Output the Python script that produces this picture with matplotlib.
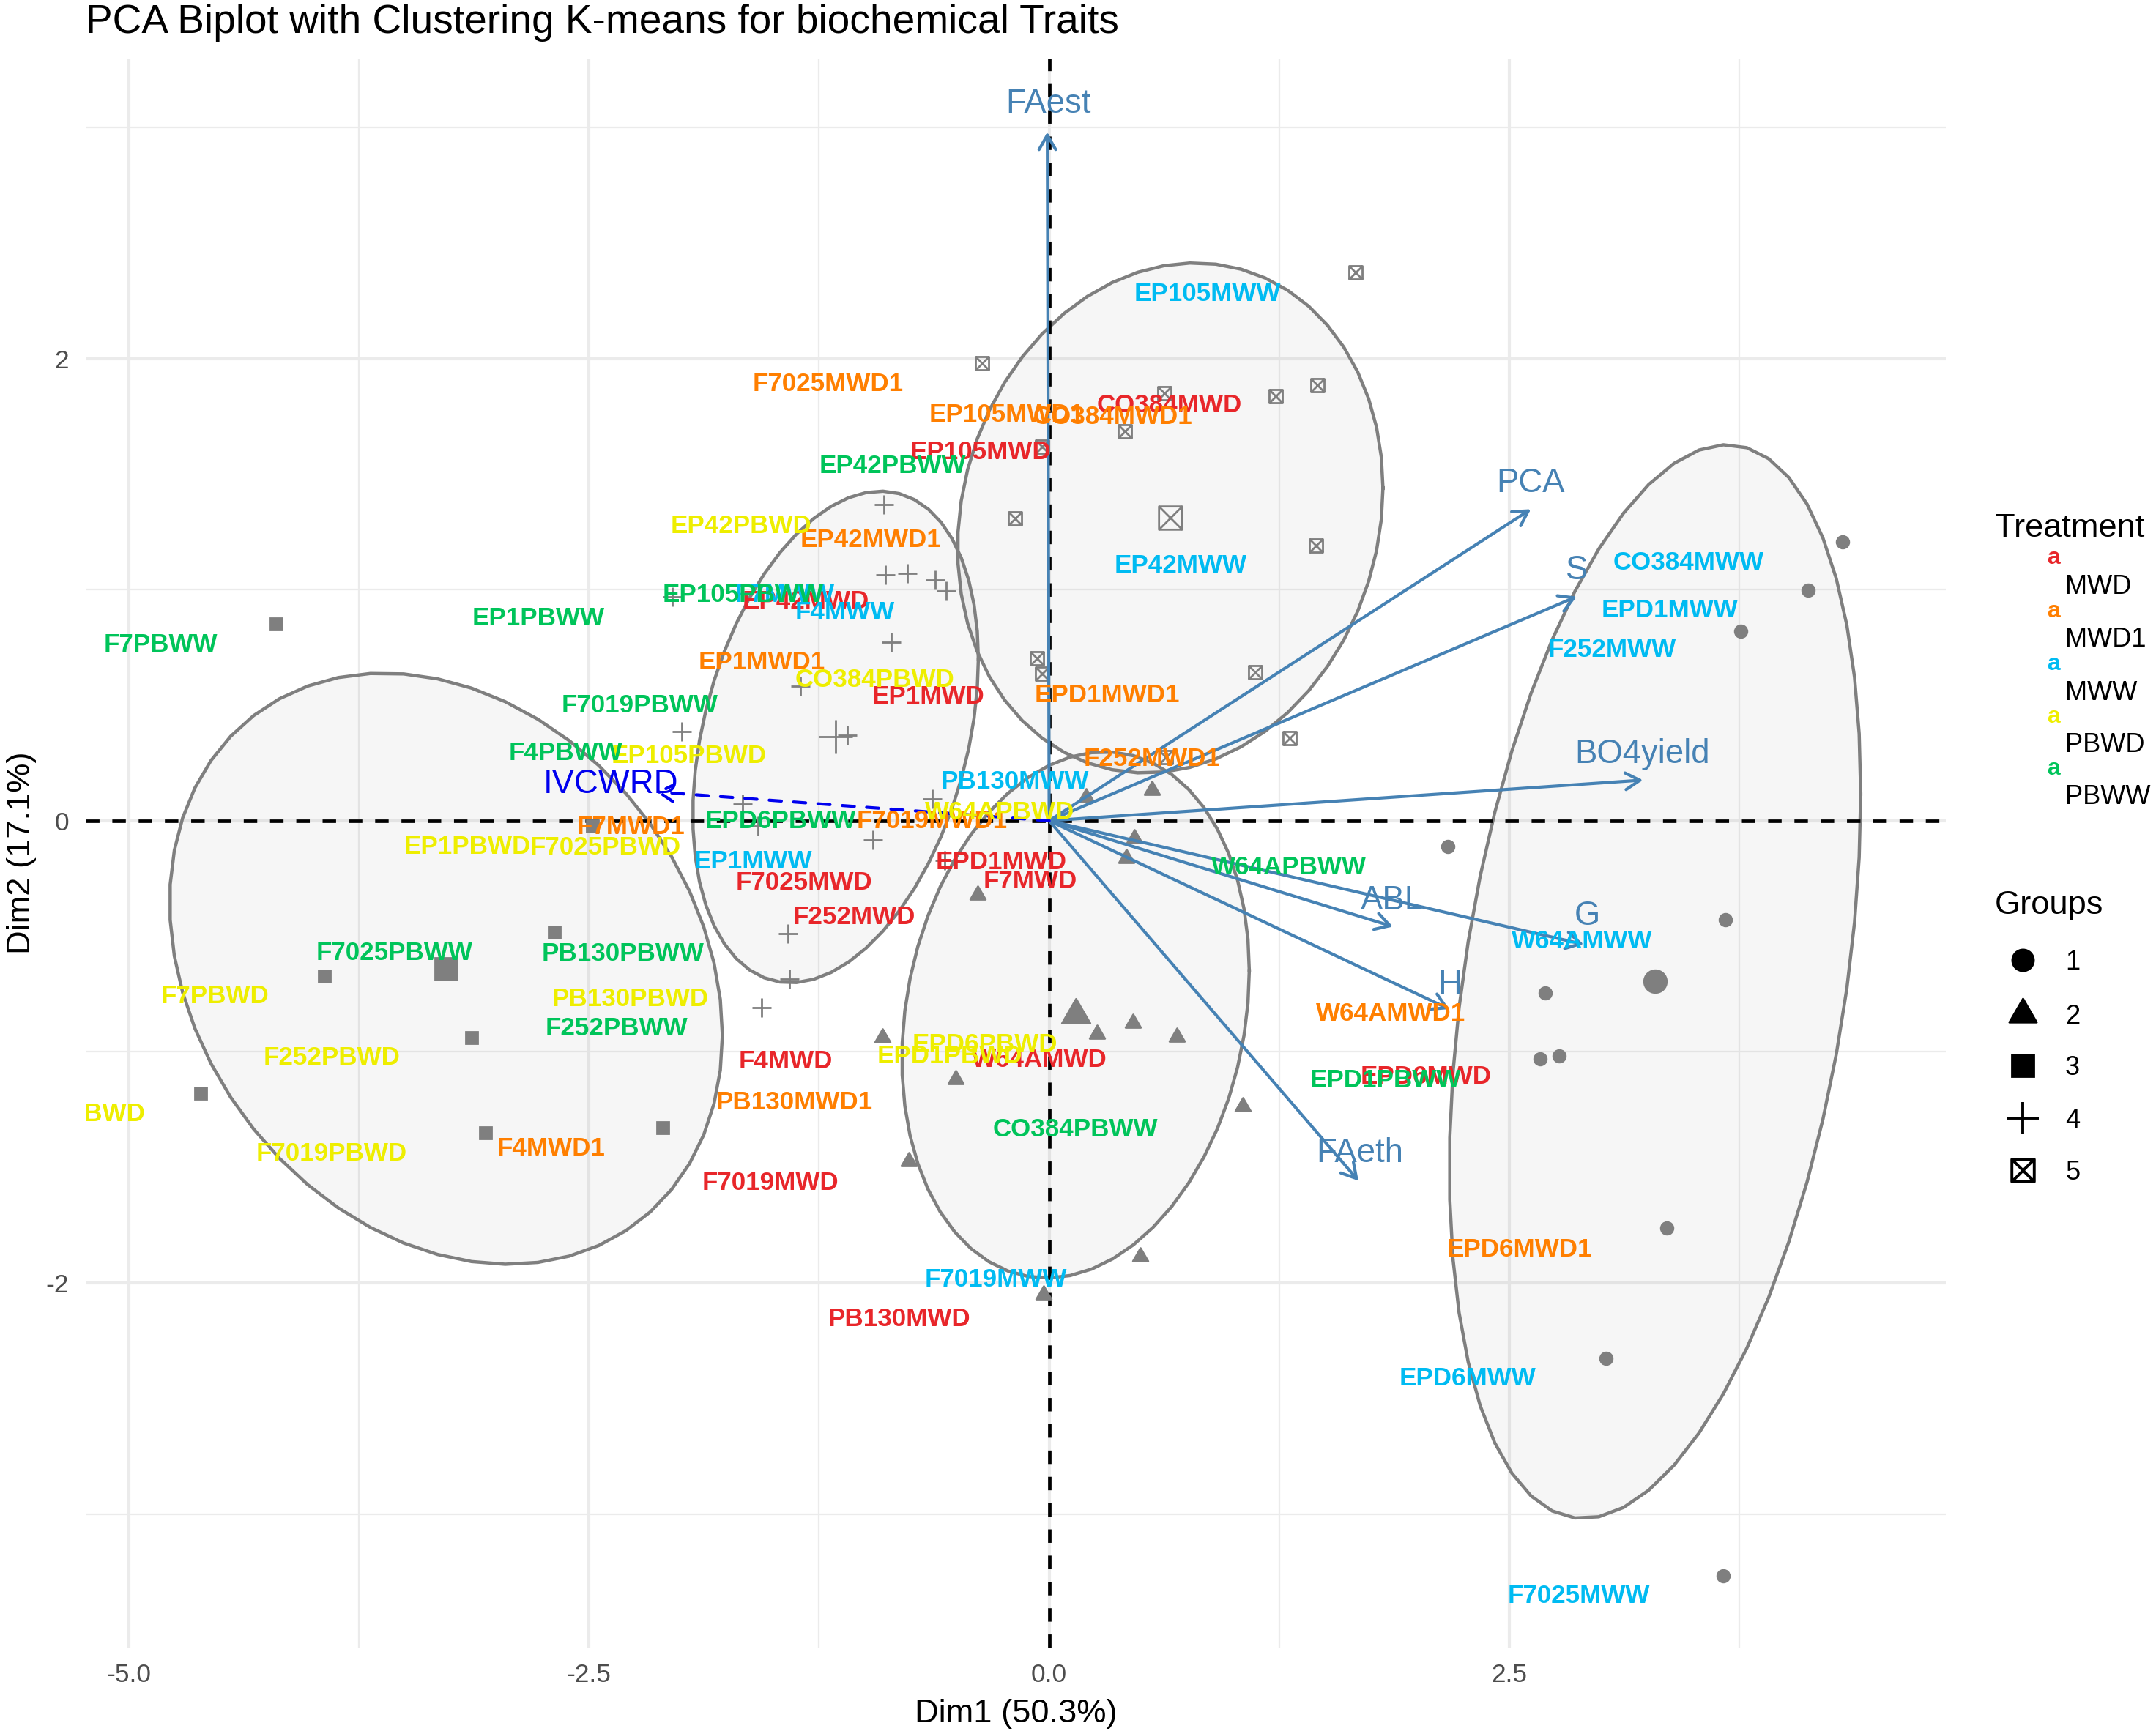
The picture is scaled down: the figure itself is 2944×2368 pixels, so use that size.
import numpy as np
import matplotlib
matplotlib.use("Agg")
import matplotlib.pyplot as plt
from matplotlib.path import Path
from matplotlib.transforms import offset_copy

plt.rcParams["font.family"] = ["Liberation Sans", "DejaVu Sans"]

# individuals (PC1, PC2), one pair of lists per k-means group
g1_x = [4.309, 4.123, 3.757, 2.166, 3.674, 2.696, 2.666, 2.771, 3.353, 3.025, 3.659]
g1_y = [1.208, 0.999, 0.821, -0.113, -0.428, -0.744, -1.029, -1.017, -1.761, -2.326, -3.266]
g2_x = [0.202, 0.560, 0.463, 0.418, -0.388, 0.456, 0.261, 0.695, -0.904, -0.508, 1.053, -0.762, 0.493, -0.030]
g2_y = [0.101, 0.131, -0.077, -0.161, -0.321, -0.874, -0.922, -0.934, -0.940, -1.118, -1.237, -1.475, -1.886, -2.052]
g3_x = [-4.197, -2.479, -2.689, -3.936, -3.137, -4.608, -3.062, -2.099]
g3_y = [0.851, -0.024, -0.482, -0.672, -0.940, -1.178, -1.350, -1.327]
g4_x = [-0.896, -0.889, -0.769, -0.620, -0.560, -0.859, -2.046, -1.352, -1.994, -1.098, -1.665, -1.583,
        -0.635, -0.956, -0.568, -1.419, -1.412, -1.561]
g4_y = [1.368, 1.065, 1.071, 1.041, 0.993, 0.773, 0.970, 0.583, 0.387, 0.369, 0.071, -0.024,
        0.095, -0.083, -0.173, -0.488, -0.684, -0.809]
g5_x = [1.665, -0.366, 0.627, 1.232, 1.456, 0.411, -0.037, -0.187, 1.449, -0.067, -0.037, 1.120, 1.307, 0.635]
g5_y = [2.374, 1.981, 1.850, 1.838, 1.886, 1.684, 1.618, 1.309, 1.190, 0.702, 0.637, 0.642, 0.357, 0.274]

# individual labels, per treatment
mwd_names = ["EP105MWD", "CO384MWD", "EP42MWD", "EP1MWD", "F7025MWD", "F252MWD", "EPD1MWD", "F7MWD",
             "F4MWD", "W64AMWD", "EPD6MWD", "F7019MWD", "PB130MWD"]
mwd_x = [-0.373, 0.653, -1.322, -0.657, -1.333, -1.060, -0.261, -0.101, -1.430, -0.051, 2.046, -1.516, -0.813]
mwd_y = [1.606, 1.806, 0.958, 0.547, -0.259, -0.408, -0.170, -0.251, -1.032, -1.024, -1.097, -1.557, -2.146]

mwd1_names = ["F7025MWD1", "EP105MWD1", "CO384MWD1", "EP42MWD1", "EP1MWD1", "EPD1MWD1", "F252MWD1",
              "F7MWD1", "F7019MWD1", "W64AMWD1", "PB130MWD1", "F4MWD1", "EPD6MWD1"]
mwd1_x = [-1.200, -0.232, 0.344, -0.970, -1.562, 0.314, 0.560, -2.270, -0.635, 1.857, -1.382, -2.704, 2.553]
mwd1_y = [1.898, 1.767, 1.755, 1.225, 0.696, 0.553, 0.278, -0.018, 0.009, -0.826, -1.209, -1.409, -1.846]

mww_names = ["EP105MWW", "EP42MWW", "F7MWW", "F4MWW", "PB130MWW", "EP1MWW", "CO384MWW", "EPD1MWW",
             "F252MWW", "W64AMWW", "F7019MWW", "EPD6MWW", "F7025MWW"]
mww_x = [0.859, 0.715, -1.434, -1.110, -0.187, -1.607, 3.473, 3.370, 3.055, 2.895, -0.291, 2.272, 2.877]
mww_y = [2.290, 1.112, 0.988, 0.912, 0.178, -0.167, 1.126, 0.920, 0.748, -0.511, -1.977, -2.403, -3.346]

pbwd_names = ["EP42PBWD", "CO384PBWD", "EP105PBWD", "EP1PBWD", "F7025PBWD", "W64APBWD", "F7PBWD",
              "PB130PBWD", "F252PBWD", "EPD6PBWD", "EPD1PBWD", "F4PBWD", "F7019PBWD"]
pbwd_x = [-1.674, -0.948, -1.957, -3.161, -2.412, -0.269, -4.532, -2.275, -3.898, -0.351, -0.541, -5.203, -3.898]
pbwd_y = [1.285, 0.620, 0.289, -0.104, -0.107, 0.045, -0.750, -0.763, -1.017, -0.960, -1.011, -1.259, -1.432]

pbww_names = ["F7PBWW", "EP1PBWW", "EP42PBWW", "EP105PBWW", "F7019PBWW", "F4PBWW", "EPD6PBWW",
              "F7025PBWW", "PB130PBWW", "F252PBWW", "W64APBWW", "EPD1PBWW", "CO384PBWW"]
pbww_x = [-4.825, -2.776, -0.852, -1.662, -2.223, -2.624, -1.461, -3.555, -2.317, -2.350, 1.303, 1.826, 0.143]
pbww_y = [0.770, 0.886, 1.544, 0.985, 0.507, 0.303, 0.009, -0.562, -0.565, -0.888, -0.192, -1.114, -1.327]

treatments = ["MWD", "MWD1", "MWW", "PBWD", "PBWW"]
treat_colors = ["#E8262A", "#FF7F00", "#00BBF2", "#EEEE00", "#00C45A"]

# active variables (arrow tips) and their label positions
var_names = ["FAest", "PCA", "S", "BO4yield", "G", "ABL", "H", "FAeth"]
var_x = [-0.010, 2.616, 2.865, 3.225, 2.903, 1.867, 2.173, 1.680]
var_y = [2.980, 1.348, 0.970, 0.176, -0.535, -0.458, -0.815, -1.558]
var_lab_x = [-0.004, 2.616, 2.864, 3.220, 2.923, 1.863, 2.177, 1.686]
var_lab_y = [3.115, 1.475, 1.098, 0.303, -0.398, -0.333, -0.697, -1.427]

# supplementary variable
sup_name = "IVCWRD"
sup_x, sup_y = -2.136, 0.125
sup_lab_x, sup_lab_y = -2.382, 0.173


def norm_ellipse(x, y, level=0.70, segments=51):
    pts = np.column_stack([x, y])
    dfd = len(pts) - 1
    radius = np.sqrt(dfd * ((1 - level) ** (-2.0 / dfd) - 1.0))   # sqrt(2 * qf(level, 2, dfd))
    chol = np.linalg.cholesky(np.cov(pts, rowvar=False)).T
    ang = np.arange(segments + 1) * 2 * np.pi / segments
    circ = np.column_stack([np.cos(ang), np.sin(ang)])
    return pts.mean(axis=0) + radius * circ @ chol


MOVE, LINE, CLOSE = Path.MOVETO, Path.LINETO, Path.CLOSEPOLY
tri = Path([(-1, -0.57735), (1, -0.57735), (0, 1.1547), (-1, -0.57735)], [MOVE, LINE, LINE, CLOSE])
boxx = Path([(-1, -1), (1, -1), (1, 1), (-1, 1), (-1, -1), (-1, -1), (1, 1), (-1, 1), (1, -1)],
            [MOVE, LINE, LINE, LINE, CLOSE, MOVE, LINE, MOVE, LINE])

W, H = 2944, 2368
fig = plt.figure(figsize=(W / 200, H / 200), dpi=200)
ax = fig.add_axes([117 / W, 1 - 2250 / H, 2540 / W, 2170 / H])
ax.set_xlim(-5.233, 4.870)
ax.set_ylim(-3.578, 3.298)

ax.set_xticks([-5, -2.5, 0, 2.5])
ax.set_xticklabels(["-5.0", "-2.5", "0.0", "2.5"])
ax.set_xticks([-3.75, -1.25, 1.25, 3.75], minor=True)
ax.set_yticks([-2, 0, 2])
ax.set_yticklabels(["-2", "0", "2"])
ax.set_yticks([-3, -1, 1, 3], minor=True)
ax.grid(which="major", color="#EBEBEB", lw=1.5)
ax.grid(which="minor", color="#EBEBEB", lw=0.8)
ax.set_axisbelow(True)
ax.tick_params(which="both", length=0, labelsize=12.7, labelcolor="#4D4D4D")
ax.tick_params(axis="x", pad=7.5)
ax.tick_params(axis="y", pad=8.3)
for s in ax.spines.values():
    s.set_visible(False)

gray = "#7F7F7F"
groups = [(g1_x, g1_y), (g2_x, g2_y), (g3_x, g3_y), (g4_x, g4_y), (g5_x, g5_y)]
small = [dict(marker="o", ms=6.0), dict(marker=tri, ms=8.6), dict(marker="s", ms=6.0),
         dict(marker="+", ms=9.2, mew=1.0), dict(marker=boxx, ms=6.5, mew=1.0, mfc="none")]
big = [dict(marker="o", ms=11.0), dict(marker=tri, ms=16.0), dict(marker="s", ms=10.6),
       dict(marker="+", ms=16.5, mew=1.0), dict(marker=boxx, ms=11.4, mew=1.0, mfc="none")]

for (gx, gy) in groups:
    e = norm_ellipse(gx, gy)
    ax.fill(e[:, 0], e[:, 1], facecolor=(0.5, 0.5, 0.5, 0.07), edgecolor="none", zorder=1)
    ax.plot(e[:, 0], e[:, 1], color=gray, lw=1.6, zorder=1.1)

ax.axhline(0, color="black", lw=1.7, ls=(0, (3.9, 3.7)), zorder=2)
ax.axvline(0, color="black", lw=1.7, ls=(0, (3.9, 3.7)), zorder=2)

for (gx, gy), st, bst in zip(groups, small, big):
    ax.plot(gx, gy, ls="none", color=gray, zorder=3, **st)
    ax.plot([np.mean(gx)], [np.mean(gy)], ls="none", color=gray, zorder=3, **bst)

head = "->,head_length=7.1,head_width=4.1"
steel = "#4682B4"
for x, y in zip(var_x, var_y):
    ax.annotate("", xy=(x, y), xytext=(0, 0),
                arrowprops=dict(arrowstyle=head, mutation_scale=1, color=steel, lw=1.5,
                                shrinkA=0, shrinkB=0), zorder=4)
ax.annotate("", xy=(sup_x, sup_y), xytext=(0, 0),
            arrowprops=dict(arrowstyle=head, mutation_scale=1, color="#0000EE", lw=1.5,
                            ls=(0, (4, 4)), shrinkA=0, shrinkB=0), zorder=4)


def label(x, y, s, color, size, weight="normal"):
    # centre the capital height on (x, y)
    tr = offset_copy(ax.transData, fig=fig, x=0, y=-0.358 * size, units="points")
    ax.text(x, y, s, transform=tr, color=color, fontsize=size, fontweight=weight,
            ha="center", va="baseline", clip_on=True, zorder=5)


ind = [(mwd_names, mwd_x, mwd_y), (mwd1_names, mwd1_x, mwd1_y), (mww_names, mww_x, mww_y),
       (pbwd_names, pbwd_x, pbwd_y), (pbww_names, pbww_x, pbww_y)]
for (names, xs, ys), col in zip(ind, treat_colors):
    for n, x, y in zip(names, xs, ys):
        label(x, y, n, col, 12.6, "bold")

for n, x, y in zip(var_names, var_lab_x, var_lab_y):
    label(x, y, n, steel, 16.4)
label(sup_lab_x, sup_lab_y, sup_name, "#0000EE", 16.4)

# overlay in pixel coordinates for titles and legend
lax = fig.add_axes([0, 0, 1, 1])
lax.axis("off")
lax.set_xlim(0, W)
lax.set_ylim(H, 0)

lax.text(117, 45, "PCA Biplot with Clustering K-means for biochemical Traits", fontsize=19.8,
         ha="left", va="baseline")
lax.text(1387, 2352, "Dim1 (50.3%)", fontsize=16.3, ha="center", va="baseline")
lax.text(41.5, 1165, "Dim2 (17.1%)", fontsize=16.3, rotation=90, rotation_mode="anchor",
         ha="center", va="baseline")

lax.text(2724, 733, "Treatment", fontsize=16.3, ha="left", va="baseline")
key_base = [770, 843, 915, 987, 1058]
lab_base = [811, 883, 956, 1027, 1098]
for t, c, kb, lb in zip(treatments, treat_colors, key_base, lab_base):
    lax.text(2804, kb, "a", color=c, fontsize=11.5, fontweight="bold", ha="center", va="baseline")
    lax.text(2820, lb, t, fontsize=13, ha="left", va="baseline")

lax.text(2724, 1248, "Groups", fontsize=16.3, ha="left", va="baseline")
leg_y = [1311, 1385, 1455, 1527, 1598]
leg_st = [dict(marker="o", ms=10.5), dict(marker=tri, ms=15.5), dict(marker="s", ms=10.6),
          dict(marker="+", ms=15.8, mew=1.4), dict(marker=boxx, ms=11.0, mew=1.4, mfc="none")]
for i, (yy, st) in enumerate(zip(leg_y, leg_st)):
    lax.plot([2762], [yy], ls="none", color="black", **st)
    lax.text(2820, yy + 13, str(i + 1), fontsize=13, ha="left", va="baseline")

fig.savefig("out.png", dpi=200)
